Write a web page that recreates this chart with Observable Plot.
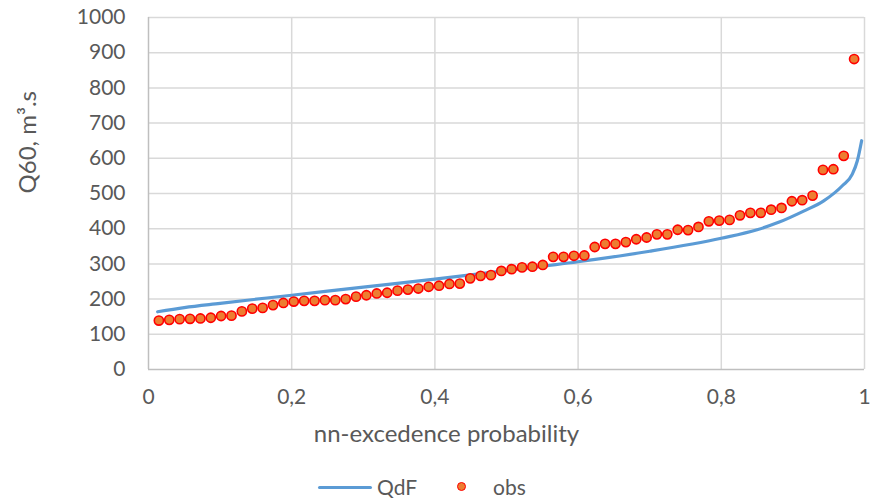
<!DOCTYPE html>
<html>
<head>
<meta charset="utf-8">
<script src="https://cdn.jsdelivr.net/npm/d3@7"></script>
<script src="https://cdn.jsdelivr.net/npm/@observablehq/plot@0.6"></script>
<style>
  body { margin: 0; background: #fff; font-family: Lato, "Open Sans", sans-serif; }
  #wrap { position: relative; width: 874px; height: 500px; }
  #legend { position: absolute; left: 0; top: 460px; width: 874px; height: 40px; color: #595959; font-size: 21px; }
  .lg-line { position: absolute; left: 318px; top: 25.5px; width: 54px; height: 3px; background: #5B9BD5; border-radius: 1.5px; }
  .lg-dot { position: absolute; left: 457px; top: 22px; width: 7px; height: 7px; border-radius: 50%; background: #ED7D31; border: 1.5px solid #FF0000; }
  .lg-text { position: absolute; top: 13px; line-height: 28px; }
</style>
</head>
<body>
<div id="wrap">
  <div id="chart"></div>
  <div id="legend">
    <div class="lg-line"></div><div class="lg-text" style="left:377px">QdF</div>
    <div class="lg-dot"></div><div class="lg-text" style="left:493px">obs</div>
  </div>
</div>
<script>
// observed points: non-exceedance probability and Q60 values
const obsProb = [0.0145,0.0290,0.0435,0.0580,0.0725,0.0870,0.1014,0.1159,0.1304,0.1449,
  0.1594,0.1739,0.1884,0.2029,0.2174,0.2319,0.2464,0.2609,0.2754,0.2899,
  0.3043,0.3188,0.3333,0.3478,0.3623,0.3768,0.3913,0.4058,0.4203,0.4348,
  0.4493,0.4638,0.4783,0.4928,0.5072,0.5217,0.5362,0.5507,0.5652,0.5797,
  0.5942,0.6087,0.6232,0.6377,0.6522,0.6667,0.6812,0.6957,0.7101,0.7246,
  0.7391,0.7536,0.7681,0.7826,0.7971,0.8116,0.8261,0.8406,0.8551,0.8696,
  0.8841,0.8986,0.9130,0.9275,0.9420,0.9565,0.9710,0.9855];
const obsQ = [139,141,143,144,145,147,152,153,165,173,
  175,183,189,193,195,195,197,197,200,207,
  211,216,218,224,227,230,235,238,243,244,
  259,266,268,280,285,290,292,297,320,320,
  323,324,348,357,357,362,370,375,384,384,
  397,396,405,421,423,425,438,445,445,454,
  459,478,481,494,567,569,607,882];

// QdF fitted curve
const qdfProb = [0.0128,0.05,0.1,0.2,0.3,0.4,0.5,0.6,0.7,0.8,0.85,0.88,0.915,0.943,0.969,0.983,0.99,0.996];
const qdfQ    = [164,176,188,211,234,257,281,306,336,373,397,418,450,479,522,555,593,650];

const xTicks = [0, 0.2, 0.4, 0.6, 0.8, 1];
const yTicks = [0,100,200,300,400,500,600,700,800,900,1000];

const obs = obsProb.map((p, i) => ({p, q: obsQ[i]}));
const qdf = qdfProb.map((p, i) => ({p, q: qdfQ[i]}));

const fmt = d => String(d).replace(".", ",");

const chart = Plot.plot({
  width: 874,
  height: 460,
  marginLeft: 148,
  marginRight: 10,
  marginTop: 17,
  marginBottom: 91,
  style: { fontFamily: "Lato, 'Open Sans', sans-serif", fontSize: "21px", color: "#595959", background: "#fff" },
  x: { domain: [0, 1] },
  y: { domain: [0, 1000] },
  marks: [
    Plot.gridX(xTicks.filter(d => d > 0), { stroke: "#d9d9d9", strokeOpacity: 1, strokeWidth: 1.5 }),
    Plot.gridY(yTicks.filter(d => d > 0), { stroke: "#d9d9d9", strokeOpacity: 1, strokeWidth: 1.5 }),
    Plot.ruleX([0], { stroke: "#bfbfbf", strokeWidth: 1.5 }),
    Plot.ruleY([0], { stroke: "#bfbfbf", strokeWidth: 1.5 }),
    Plot.axisX(xTicks, { tickSize: 0, tickPadding: 20, tickFormat: fmt, fill: "#595959", fontSize: 21, label: null }),
    Plot.axisY(yTicks, { tickSize: 0, tickPadding: 23, tickFormat: d => String(d), fill: "#595959", fontSize: 21, label: null }),
    Plot.text(["nn-excedence probability"], { frameAnchor: "bottom", dx: -60, dy: 72, fontSize: 24, fill: "#595959" }),
    Plot.text(["Q60, m³.s"], { frameAnchor: "left", dx: -120, rotate: -90, fontSize: 24, fill: "#595959" }),
    Plot.line(qdf, { x: "p", y: "q", stroke: "#5B9BD5", strokeWidth: 3.2, curve: "monotone-x" }),
    Plot.dot(obs, { x: "p", y: "q", r: 4.6, fill: "#ED7D31", stroke: "#FF0000", strokeWidth: 1.6 })
  ]
});
document.getElementById("chart").appendChild(chart);
</script>
</body>
</html>
